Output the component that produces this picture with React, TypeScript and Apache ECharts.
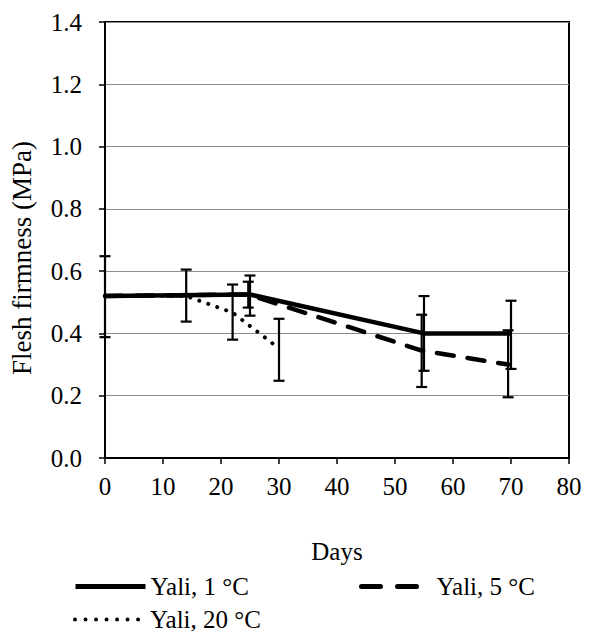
import React, { useEffect, useRef } from "react";
import * as echarts from "echarts";

// Line data [day, firmness MPa]
const days1 = [0, 25, 55, 70];
const vals1 = [0.52, 0.525, 0.40, 0.40];
const days5 = [0, 24.7, 54.6, 69.5];
const vals5 = [0.52, 0.525, 0.345, 0.30];
const days20 = [0, 14, 22, 30];
const vals20 = [0.52, 0.52, 0.467, 0.352];

// Error bars [day, low, high]
const errDays = [0, 14, 22, 24.7, 25, 30, 54.6, 55, 69.5, 70];
const errLow = [0.388, 0.438, 0.38, 0.483, 0.457, 0.248, 0.228, 0.28, 0.195, 0.286];
const errHigh = [0.648, 0.605, 0.557, 0.566, 0.586, 0.447, 0.46, 0.52, 0.41, 0.505];

const yTicks = [0, 0.2, 0.4, 0.6, 0.8, 1.0, 1.2, 1.4];
const xTicks = [0, 10, 20, 30, 40, 50, 60, 70, 80];

const FONT = "Liberation Serif";
const FS = 25;

export default function App() {
  const ref = useRef<HTMLDivElement>(null);
  useEffect(() => {
    document.body.style.margin = "0";
    if (!ref.current) return;
    const chart = echarts.init(ref.current, undefined, { renderer: "svg" });
    const pair = (xs: number[], ys: number[]) => xs.map((x, i) => [x, ys[i]]);
    const errData = errDays.map((d, i) => [d, errLow[i], errHigh[i]]);
    const legendText = { fontFamily: FONT, fontSize: FS, color: "#000" };
    const legendBase = {
      padding: 0,
      itemWidth: 70,
      itemHeight: 20,
      textStyle: legendText,
      itemStyle: { opacity: 0 },
    };
    chart.setOption({
      animation: false,
      backgroundColor: "#fff",
      textStyle: { fontFamily: FONT },
      grid: {
        left: 105,
        top: 22,
        width: 464,
        height: 436,
        show: true,
        borderColor: "#000",
        borderWidth: 2,
        backgroundColor: "transparent",
      },
      xAxis: {
        type: "value",
        min: xTicks[0],
        max: xTicks[xTicks.length - 1],
        interval: 10,
        name: "Days",
        nameLocation: "middle",
        nameGap: 81,
        nameTextStyle: { fontFamily: FONT, fontSize: FS, color: "#000" },
        axisLine: { lineStyle: { color: "#000", width: 2 } },
        axisTick: { show: true, inside: false, length: 6, lineStyle: { color: "#000", width: 1.5 } },
        axisLabel: { fontFamily: FONT, fontSize: FS, color: "#000", margin: 16 },
        splitLine: { show: false },
      },
      yAxis: {
        type: "value",
        min: yTicks[0],
        max: yTicks[yTicks.length - 1],
        interval: 0.2,
        name: "Flesh firmness (MPa)",
        nameLocation: "middle",
        nameGap: 70,
        nameTextStyle: { fontFamily: FONT, fontSize: 27, color: "#000", padding: [0, 36, 0, 0] },
        axisLine: { lineStyle: { color: "#000", width: 2 } },
        axisTick: { show: true, inside: false, length: 6, lineStyle: { color: "#000", width: 1.5 } },
        axisLabel: {
          fontFamily: FONT,
          fontSize: FS,
          color: "#000",
          margin: 23,
          formatter: (v: number) => v.toFixed(1),
        },
        splitLine: { show: true, lineStyle: { color: "#8c8c8c", width: 1.2 } },
      },
      legend: [
        { ...legendBase, data: ["Yali, 1 °C"], left: 73, top: 574, lineStyle: { width: 5 } },
        {
          ...legendBase,
          data: ["Yali, 5 °C"],
          left: 359,
          top: 574,
          lineStyle: { width: 5, type: [19, 17], cap: "round" },
        },
        { ...legendBase, data: ["Yali, 20 °C"], left: 73, top: 607, lineStyle: { width: 4, type: [0.01, 10.5], cap: "round" } },
      ],
      series: [
        {
          name: "Yali, 1 °C",
          type: "line",
          data: pair(days1, vals1),
          symbol: "none",
          lineStyle: { color: "#000", width: 4.5, type: "solid" },
          itemStyle: { color: "#000" },
          z: 2,
        },
        {
          name: "Yali, 5 °C",
          type: "line",
          data: pair(days5, vals5),
          symbol: "none",
          lineStyle: { color: "#000", width: 4.5, type: [17, 14], cap: "round" },
          itemStyle: { color: "#000" },
          z: 2,
        },
        {
          name: "Yali, 20 °C",
          type: "line",
          data: pair(days20, vals20),
          symbol: "none",
          lineStyle: { color: "#000", width: 4, type: [0.01, 9.5], cap: "round" },
          itemStyle: { color: "#000" },
          z: 2,
        },
        {
          name: "errors",
          type: "custom",
          data: errData,
          encode: { x: 0, y: [1, 2] },
          z: 3,
          renderItem: (params: any, api: any) => {
            const x = api.value(0);
            const lo = api.coord([x, api.value(1)]);
            const hi = api.coord([x, api.value(2)]);
            const hw = 5.5;
            const style = { stroke: "#000", lineWidth: 2.2 };
            return {
              type: "group",
              children: [
                { type: "line", shape: { x1: lo[0], y1: lo[1], x2: hi[0], y2: hi[1] }, style },
                { type: "line", shape: { x1: lo[0] - hw, y1: lo[1], x2: lo[0] + hw, y2: lo[1] }, style },
                { type: "line", shape: { x1: hi[0] - hw, y1: hi[1], x2: hi[0] + hw, y2: hi[1] }, style },
              ],
            };
          },
        },
      ],
    });
    return () => chart.dispose();
  }, []);
  return <div ref={ref} style={{ width: 589, height: 640 }} />;
}
